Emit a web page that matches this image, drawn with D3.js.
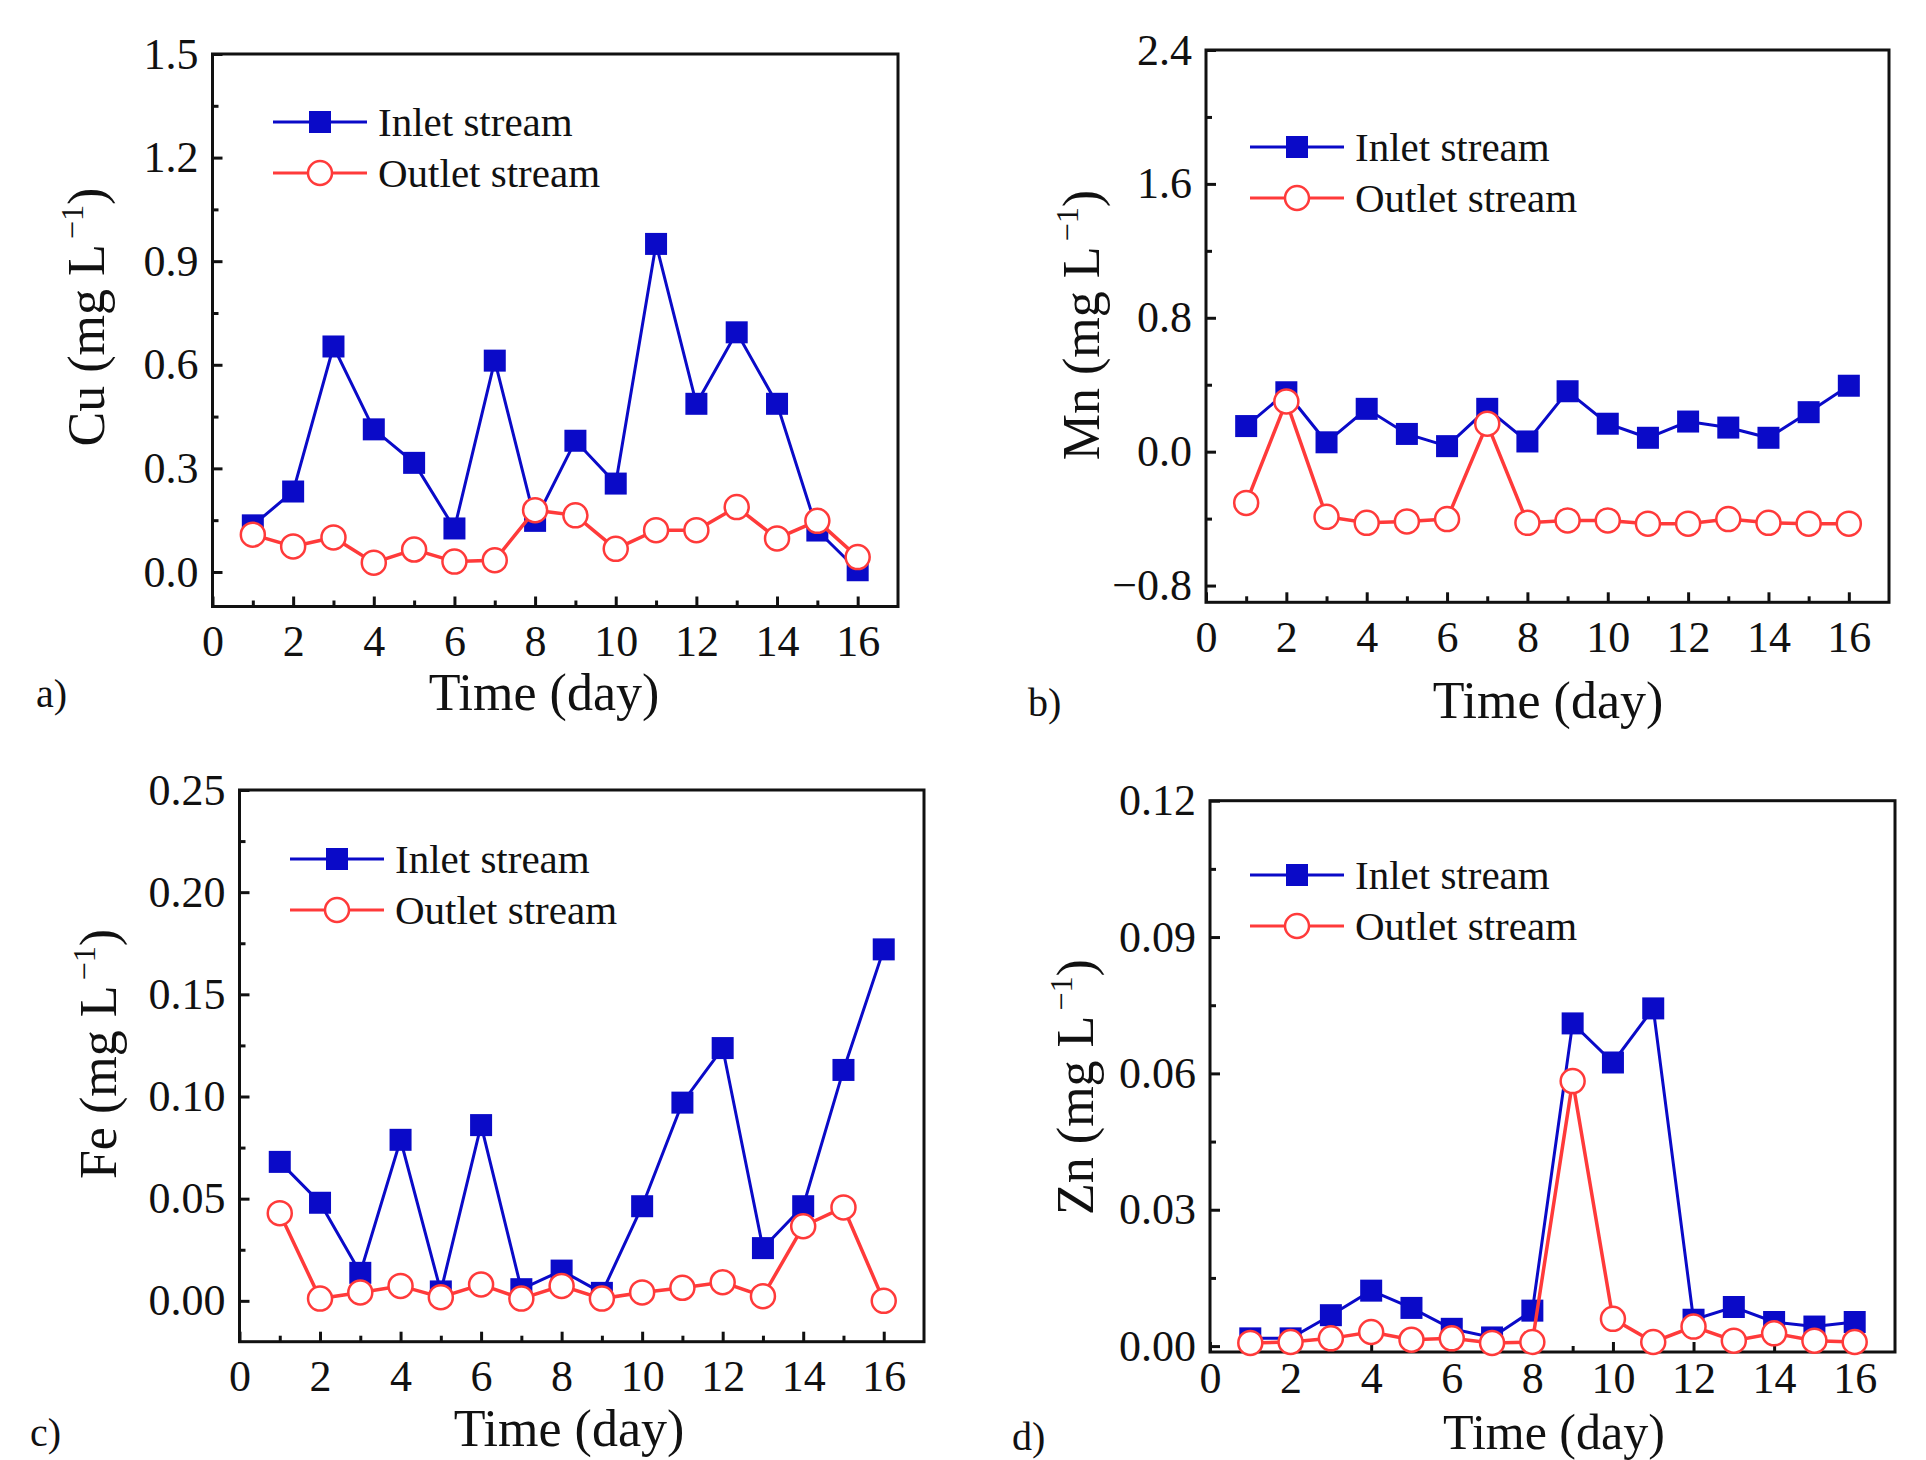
<!DOCTYPE html>
<html>
<head>
<meta charset="utf-8">
<script src="https://cdn.jsdelivr.net/npm/d3@7"></script>
<style>
  body { margin: 0; background: #fff; }
  svg { display: block; font-family: 'Liberation Serif', 'Times New Roman', serif; }
</style>
</head>
<body>
<svg id="chart" width="1926" height="1460"></svg>
<script>
// DATA
const days = [1, 2, 3, 4, 5, 6, 7, 8, 9, 10, 11, 12, 13, 14, 15, 16];
const xTicks = [0, 2, 4, 6, 8, 10, 12, 14, 16];
const xMinor = [1, 3, 5, 7, 9, 11, 13, 15];

const cuInlet = [0.135, 0.233, 0.653, 0.413, 0.316, 0.126, 0.612, 0.148, 0.380, 0.256, 0.950, 0.487, 0.694, 0.487, 0.120, 0.005];
const cuOutlet = [0.108, 0.074, 0.100, 0.027, 0.065, 0.030, 0.034, 0.179, 0.164, 0.067, 0.121, 0.121, 0.188, 0.097, 0.148, 0.043];
const cuTicks = [0.0, 0.3, 0.6, 0.9, 1.2, 1.5];
const cuMinor = [0.15, 0.45, 0.75, 1.05, 1.35];

const mnInlet = [0.153, 0.355, 0.056, 0.256, 0.106, 0.033, 0.256, 0.061, 0.361, 0.167, 0.083, 0.180, 0.144, 0.083, 0.236, 0.394];
const mnOutlet = [-0.306, 0.300, -0.389, -0.425, -0.417, -0.403, 0.167, -0.425, -0.411, -0.411, -0.430, -0.430, -0.403, -0.425, -0.430, -0.430];
const mnTicks = [-0.8, 0.0, 0.8, 1.6, 2.4];
const mnMinor = [-0.4, 0.4, 1.2, 2.0];

const feInlet = [0.068, 0.048, 0.0137, 0.0788, 0.0046, 0.086, 0.0057, 0.0148, 0.0039, 0.0463, 0.097, 0.1237, 0.0258, 0.0463, 0.113, 0.172];
const feOutlet = [0.0429, 0.0011, 0.0041, 0.0073, 0.0018, 0.0080, 0.0011, 0.0073, 0.0011, 0.0041, 0.0064, 0.0091, 0.0023, 0.0365, 0.0457, 0.0];
const feTicks = [0.0, 0.05, 0.10, 0.15, 0.20, 0.25];
const feMinor = [0.025, 0.075, 0.125, 0.175, 0.225];

const znInlet = [0.0017, 0.0017, 0.0068, 0.0122, 0.0084, 0.0038, 0.0019, 0.0078, 0.0710, 0.0624, 0.0743, 0.0058, 0.0086, 0.0053, 0.0043, 0.0053];
const znOutlet = [0.0007, 0.0009, 0.0017, 0.0031, 0.0014, 0.0017, 0.0007, 0.0009, 0.0583, 0.0060, 0.0009, 0.0043, 0.0012, 0.0028, 0.0012, 0.0009];
const znTicks = [0.0, 0.03, 0.06, 0.09, 0.12];
const znMinor = [0.015, 0.045, 0.075, 0.105];

const seriesNames = ['Inlet stream', 'Outlet stream'];

// STYLE
const blue = '#0a0ac8';
const red = '#ff3a3a';
const tickFont = 44;
const titleFont = 52;
const legendFont = 41;

const panels = [
  {
    tag: 'a)', el: 'Cu', inlet: cuInlet, outlet: cuOutlet,
    yDomain: [-0.1, 1.5], yTicks: cuTicks, yMinor: cuMinor, fmt: d3.format('.1f'),
    box: { l: 212.5, t: 54, r: 898, b: 606.5 }, xPad: 18,
    legend: { x: 273, y: 122 }, xTitle: { x: 544, y: 710, size: titleFont }, yTitle: { x: 86, y: 317 },
    tagPos: { x: 36, y: 707 },
  },
  {
    tag: 'b)', el: 'Mn', inlet: mnInlet, outlet: mnOutlet,
    yDomain: [-0.9, 2.4], yTicks: mnTicks, yMinor: mnMinor, fmt: d3.format('.1f'),
    box: { l: 1206, t: 50, r: 1889, b: 602.3 }, xPad: 18,
    legend: { x: 1250, y: 147 }, xTitle: { x: 1548, y: 718, size: titleFont }, yTitle: { x: 1081, y: 325 },
    tagPos: { x: 1028, y: 716 },
  },
  {
    tag: 'c)', el: 'Fe', inlet: feInlet, outlet: feOutlet,
    yDomain: [-0.02, 0.25], yTicks: feTicks, yMinor: feMinor, fmt: d3.format('.2f'),
    box: { l: 239.5, t: 790, r: 924, b: 1341.7 }, xPad: 18,
    legend: { x: 290, y: 859 }, xTitle: { x: 569, y: 1446, size: titleFont }, yTitle: { x: 98, y: 1054 },
    tagPos: { x: 30, y: 1446 },
  },
  {
    tag: 'd)', el: 'Zn', inlet: znInlet, outlet: znOutlet,
    yDomain: [-0.0013, 0.12], yTicks: znTicks, yMinor: znMinor, fmt: d3.format('.2f'),
    box: { l: 1210, t: 800.7, r: 1895, b: 1352 }, xPad: 10,
    legend: { x: 1250, y: 875 }, xTitle: { x: 1554, y: 1449, size: 50 }, yTitle: { x: 1075, y: 1087 },
    tagPos: { x: 1012, y: 1450 },
  },
];

const svg = d3.select('#chart');

panels.forEach(drawPanel);

/**
 * Draws one framed panel: axes with inward ticks, the two series and legend.
 */
function drawPanel(p) {
  const { l, t, r, b } = p.box;
  const x = d3.scaleLinear().domain([0, 17]).range([l, r]);
  const y = d3.scaleLinear().domain(p.yDomain).range([b, t]);
  const g = svg.append('g');

  // minor ticks
  g.append('g')
    .attr('transform', `translate(0,${b})`)
    .call(d3.axisBottom(x).tickValues(xMinor).tickSizeInner(-6).tickSizeOuter(0).tickFormat(''))
    .call(styleAxis);
  g.append('g')
    .attr('transform', `translate(${l},0)`)
    .call(d3.axisLeft(y).tickValues(p.yMinor).tickSizeInner(-6).tickSizeOuter(0).tickFormat(''))
    .call(styleAxis);

  // major ticks + labels
  g.append('g')
    .attr('transform', `translate(0,${b})`)
    .call(d3.axisBottom(x).tickValues(xTicks).tickSizeInner(-10).tickSizeOuter(0).tickPadding(p.xPad))
    .call(styleAxis);
  g.append('g')
    .attr('transform', `translate(${l},0)`)
    .call(
      d3.axisLeft(y).tickValues(p.yTicks).tickSizeInner(-10).tickSizeOuter(0).tickPadding(14)
        .tickFormat((d) => p.fmt(d).replace('-', '\u2212'))
    )
    .call(styleAxis);

  // frame
  g.append('rect')
    .attr('x', l).attr('y', t)
    .attr('width', r - l).attr('height', b - t)
    .attr('fill', 'none')
    .attr('stroke', '#111')
    .attr('stroke-width', 3);

  const line = d3.line().x((d, i) => x(days[i])).y((d) => y(d));

  // inlet stream
  g.append('path')
    .datum(p.inlet)
    .attr('d', line)
    .attr('fill', 'none')
    .attr('stroke', blue)
    .attr('stroke-width', 3);
  g.selectAll('rect.inlet')
    .data(p.inlet)
    .join('rect')
    .attr('class', 'inlet')
    .attr('x', (d, i) => x(days[i]) - 11)
    .attr('y', (d) => y(d) - 11)
    .attr('width', 22)
    .attr('height', 22)
    .attr('fill', blue);

  // outlet stream
  g.append('path')
    .datum(p.outlet)
    .attr('d', line)
    .attr('fill', 'none')
    .attr('stroke', red)
    .attr('stroke-width', 3.5);
  g.selectAll('circle.outlet')
    .data(p.outlet)
    .join('circle')
    .attr('class', 'outlet')
    .attr('cx', (d, i) => x(days[i]))
    .attr('cy', (d) => y(d))
    .attr('r', 12)
    .attr('fill', '#fff')
    .attr('stroke', red)
    .attr('stroke-width', 2.5);

  // legend
  const lg = g.append('g').attr('transform', `translate(${p.legend.x},${p.legend.y})`);
  seriesNames.forEach((name, i) => {
    const row = lg.append('g').attr('transform', `translate(0,${i * 51})`);
    const c = i === 0 ? blue : red;
    row.append('line')
      .attr('x1', 0).attr('x2', 94)
      .attr('stroke', c)
      .attr('stroke-width', 3);
    if (i === 0) {
      row.append('rect')
        .attr('x', 36).attr('y', -11)
        .attr('width', 22).attr('height', 22)
        .attr('fill', blue);
    } else {
      row.append('circle')
        .attr('cx', 47).attr('r', 12)
        .attr('fill', '#fff')
        .attr('stroke', red)
        .attr('stroke-width', 2.5);
    }
    row.append('text')
      .attr('x', 105)
      .attr('dy', '0.35em')
      .attr('font-size', legendFont)
      .attr('fill', '#111')
      .text(name);
  });

  // axis titles
  g.append('text')
    .attr('x', p.xTitle.x)
    .attr('y', p.xTitle.y)
    .attr('text-anchor', 'middle')
    .attr('font-size', p.xTitle.size)
    .attr('fill', '#111')
    .text('Time (day)');

  const yt = g.append('text')
    .attr('transform', `translate(${p.yTitle.x},${p.yTitle.y}) rotate(-90)`)
    .attr('text-anchor', 'middle')
    .attr('dy', '0.35em')
    .attr('font-size', titleFont)
    .attr('fill', '#111');
  yt.append('tspan').text(`${p.el} (mg L`);
  yt.append('tspan').attr('font-size', titleFont * 0.62).attr('dy', -21).attr('dx', 5).text('\u22121');
  yt.append('tspan').attr('dy', 21).text(')');

  // panel tag
  g.append('text')
    .attr('x', p.tagPos.x)
    .attr('y', p.tagPos.y)
    .attr('font-size', 40)
    .attr('fill', '#111')
    .text(p.tag);
}

function styleAxis(sel) {
  sel.select('.domain').remove();
  sel.selectAll('.tick line').attr('stroke', '#111').attr('stroke-width', 3);
  sel.selectAll('.tick text')
    .attr('font-size', tickFont)
    .attr('font-family', "'Liberation Serif', 'Times New Roman', serif")
    .attr('fill', '#111');
}
</script>
</body>
</html>
